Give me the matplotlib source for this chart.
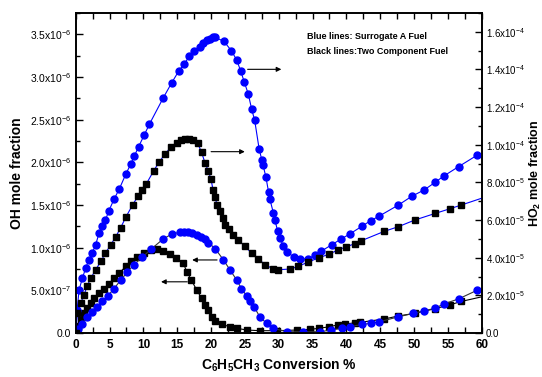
import matplotlib.pyplot as plt
from matplotlib.ticker import MultipleLocator, FuncFormatter

plt.rcParams['font.family'] = ['Liberation Sans', 'DejaVu Sans']
plt.rcParams['mathtext.fontset'] = 'custom'
plt.rcParams['mathtext.rm'] = 'Liberation Sans'
plt.rcParams['mathtext.it'] = 'Liberation Sans:italic'
plt.rcParams['mathtext.bf'] = 'Liberation Sans:bold'

# HO2, surrogate A fuel (blue circles, right axis, units of 1e-5)
ho2_blue_x = [0, 0.2, 0.5, 0.98, 1.47, 1.96, 2.45, 2.95, 3.45, 3.9, 4.4, 4.9, 5.66, 6.45,
              7.43, 8.17, 8.66, 9.3, 10.1, 10.9, 12.95, 14.2, 15.2, 16.05, 16.8, 17.5, 18.3,
              18.85, 19.4, 19.9, 20.3, 20.6, 21.9, 23.0, 23.8, 24.4, 24.9, 25.5, 26.0, 26.45,
              27.1, 27.5, 27.7, 28.1, 28.5, 28.7, 29.2, 29.45, 29.85, 30.2, 30.7, 31.3, 32.2,
              33.1, 34.4, 35.4, 36.25, 37.9, 39.25, 40.5, 42.3, 43.6, 44.8, 47.7, 49.7, 51.5,
              53.1, 54.4, 56.6, 59.3]
ho2_blue_y = [0, 1.2, 2.3, 2.9, 3.45, 3.9, 4.25, 4.7, 5.3, 5.7, 6.0, 6.5, 7.1, 7.66,
              8.46, 9.0, 9.4, 9.9, 10.5, 11.1, 12.5, 13.3, 13.9, 14.3, 14.7, 15.0, 15.2,
              15.4, 15.55, 15.6, 15.7, 15.7, 15.5, 15.0, 14.5, 13.9, 13.35, 12.7, 11.9, 11.3,
              9.8, 9.2, 8.9, 8.3, 7.5, 7.1, 6.4, 6.0, 5.4, 5.05, 4.6, 4.3, 4.04,
              3.93, 3.95, 4.15, 4.34, 4.7, 5.0, 5.26, 5.67, 5.97, 6.2, 6.8, 7.27, 7.6,
              8.0, 8.34, 8.84, 9.44]

# HO2, two component fuel (black squares, right axis, units of 1e-5)
ho2_black_x = [0, 0.24, 0.74, 1.2, 1.7, 2.2, 2.95, 3.7, 4.4, 5.2, 5.9, 6.65, 7.43, 8.4,
               9.2, 9.75, 10.4, 11.5, 12.35, 13.2, 14.1, 14.9, 15.55, 16.15, 16.75, 17.4,
               18.0, 18.6, 19.1, 19.6, 20.0, 20.3, 20.6, 20.9, 21.3, 21.7, 22.1, 22.7, 23.3,
               24.0, 25.0, 26.0, 27.0, 28.0, 29.2, 29.9, 31.7, 32.9, 34.4, 36.0, 37.5, 38.7,
               39.9, 41.3, 42.2, 45.6, 47.7, 50.1, 53.1, 55.3, 57.0, 62.0]
ho2_black_y = [0, 1.05, 1.6, 2.0, 2.5, 2.9, 3.36, 3.8, 4.25, 4.7, 5.1, 5.6, 6.17, 6.8,
               7.27, 7.6, 7.9, 8.6, 9.1, 9.5, 9.9, 10.1, 10.25, 10.3, 10.3, 10.24,
               10.1, 9.6, 9.05, 8.6, 8.16, 7.6, 7.2, 6.8, 6.5, 6.1, 5.76, 5.5, 5.2,
               4.96, 4.6, 4.25, 3.93, 3.63, 3.4, 3.36, 3.4, 3.54, 3.78, 4.0, 4.2, 4.4,
               4.57, 4.75, 4.9, 5.4, 5.65, 6.0, 6.35, 6.6, 6.8, 7.4]

# OH, two component fuel (black squares, left axis, units of 1e-6)
oh_black_x = [0, 0.3, 0.74, 1.2, 1.7, 2.2, 2.7, 3.45, 4.2, 4.9, 5.66, 6.4, 7.4, 8.2, 9.1,
              10.1, 11.1, 12.05, 12.95, 14.0, 14.8, 15.9, 16.4, 17.1, 17.9, 18.6, 19.1,
              19.6, 20.1, 20.6, 21.6, 22.8, 23.8, 25.3, 27.2, 29.7, 32.7, 34.6, 36.0, 37.5,
              38.7, 39.8, 41.3, 42.0, 45.6, 47.7, 50.1, 53.1, 55.3, 57.0, 62.0]
oh_black_y = [0, 0.08, 0.152, 0.23, 0.29, 0.35, 0.41, 0.465, 0.52, 0.58, 0.64, 0.70, 0.78,
              0.84, 0.89, 0.94, 0.97, 0.98, 0.965, 0.92, 0.88, 0.82, 0.72, 0.62, 0.50, 0.41,
              0.33, 0.27, 0.19, 0.144, 0.10, 0.074, 0.055, 0.035, 0.027, 0.027, 0.035,
              0.043, 0.055, 0.074, 0.094, 0.105, 0.12, 0.125, 0.164, 0.2, 0.23, 0.285,
              0.33, 0.37, 0.46]

# OH, surrogate A fuel (blue circles, left axis, units of 1e-6)
oh_blue_x = [0, 0.4, 1.0, 1.7, 2.45, 3.2, 3.9, 4.7, 5.66, 6.65, 7.6, 8.6, 9.85, 11.1, 12.9,
             14.2, 15.4, 16.0, 16.6, 17.2, 17.9, 18.5, 19.1, 19.6, 20.6, 21.8, 22.8, 23.8,
             24.5, 25.3, 25.8, 26.35, 27.2, 28.2, 29.2, 31.2, 33.6, 36.1, 37.8, 39.3, 40.5,
             42.3, 43.6, 44.8, 47.7, 49.9, 51.5, 53.1, 54.4, 56.6, 59.3]
oh_blue_y = [0, 0.05, 0.11, 0.19, 0.25, 0.31, 0.37, 0.43, 0.52, 0.62, 0.71, 0.80, 0.89, 0.98,
             1.10, 1.16, 1.18, 1.185, 1.18, 1.17, 1.15, 1.13, 1.10, 1.06, 0.99, 0.86, 0.74,
             0.62, 0.52, 0.43, 0.37, 0.31, 0.19, 0.114, 0.055, 0.015, 0.015, 0.015, 0.035,
             0.055, 0.074, 0.10, 0.114, 0.13, 0.19, 0.23, 0.26, 0.29, 0.34, 0.40, 0.50]

blue = '#0000ff'

fig = plt.figure(figsize=(5.42, 3.77), dpi=100)
ax = fig.add_axes([0.1397, 0.1167, 0.749, 0.8488])
ax2 = ax.twinx()

# left axis: OH
ax.plot(oh_black_x, [v * 1e-6 for v in oh_black_y], '-s', color='black', ms=4.2,
        lw=0.8, mfc='black', mec='black')
ax.plot(oh_blue_x, [v * 1e-6 for v in oh_blue_y], '-o', color='#333333', ms=5,
        lw=0.8, mfc=blue, mec=blue)

# right axis: HO2
ax2.plot(ho2_blue_x, [v * 1e-5 for v in ho2_blue_y], '-o', color=blue, ms=5,
         lw=0.8, mfc=blue, mec=blue)
ax2.plot(ho2_black_x, [v * 1e-5 for v in ho2_black_y], '-s', color=blue, ms=4.2,
         lw=0.8, mfc='black', mec='black')

ax.set_xlim(0, 60)
ax.set_ylim(0, 3.75e-6)
ax2.set_ylim(0, 1.7e-4)


def sci_fmt(v, pos):
    if v == 0:
        return '0.0'
    e = int(f'{v:e}'.split('e')[1])
    m = v / 10 ** e
    return f'{m:.1f}x10$^{{{e}}}$'


ax.xaxis.set_major_locator(MultipleLocator(5))
ax.xaxis.set_minor_locator(MultipleLocator(2.5))
ax.yaxis.set_major_locator(MultipleLocator(0.5e-6))
ax.yaxis.set_minor_locator(MultipleLocator(0.25e-6))
ax2.yaxis.set_major_locator(MultipleLocator(2e-5))
ax2.yaxis.set_minor_locator(MultipleLocator(1e-5))
ax.yaxis.set_major_formatter(FuncFormatter(sci_fmt))
ax2.yaxis.set_major_formatter(FuncFormatter(sci_fmt))

ax.tick_params(axis='x', which='both', direction='in', top=True, bottom=True,
               labelsize=8.5, pad=4)
ax.tick_params(axis='x', which='major', length=4, width=1)
ax.tick_params(axis='x', which='minor', length=4, width=1)
ax.tick_params(axis='y', which='both', direction='in', left=True, right=False,
               labelsize=7.5)
ax.tick_params(axis='y', which='major', length=5, width=1)
ax.tick_params(axis='y', which='minor', length=3, width=1)
ax2.tick_params(axis='y', which='both', direction='in', labelsize=7, pad=3)
ax2.tick_params(axis='y', which='major', length=5, width=1)
ax2.tick_params(axis='y', which='minor', length=3, width=1)
for lbl in ax.get_xticklabels():
    lbl.set_fontweight('bold')

for sp in list(ax.spines.values()) + list(ax2.spines.values()):
    sp.set_linewidth(1.2)

ax.set_xlabel(r'C$_{\mathbf{6}}$H$_{\mathbf{5}}$CH$_{\mathbf{3}}$ Conversion %',
              fontsize=10, fontweight='bold', labelpad=4)
ax.set_ylabel('OH mole fraction', fontsize=10, fontweight='bold', labelpad=4)
ax2.set_ylabel(r'HO$_{\mathbf{2}}$ mole fraction', fontsize=9, fontweight='bold',
               rotation=90, va='center')
ax2.yaxis.set_label_coords(1.132, 0.5)

arrow = dict(arrowstyle='-|>', color='black', lw=0.8, mutation_scale=7)
ax.annotate('', xy=(30.8, 3.09e-6), xytext=(25.0, 3.09e-6), arrowprops=arrow)
ax.annotate('', xy=(25.4, 2.125e-6), xytext=(19.6, 2.125e-6), arrowprops=arrow)
ax.annotate('', xy=(16.8, 0.856e-6), xytext=(21.3, 0.856e-6), arrowprops=arrow)
ax.annotate('', xy=(12.2, 0.60e-6), xytext=(16.9, 0.60e-6), arrowprops=arrow)

ax.text(0.569, 0.928, 'Blue lines: Surrogate A Fuel', transform=ax.transAxes,
        fontsize=6.5, fontweight='bold', ha='left', va='center')
ax.text(0.569, 0.881, 'Black lines:Two Component Fuel', transform=ax.transAxes,
        fontsize=6.5, fontweight='bold', ha='left', va='center')

fig.savefig('out.png', dpi=100)
